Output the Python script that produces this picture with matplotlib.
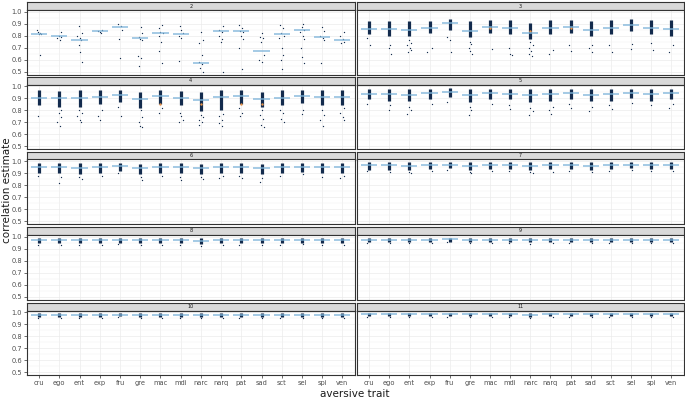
import matplotlib
matplotlib.use("Agg")
import matplotlib.pyplot as plt
import numpy as np

traits = ["cru", "ego", "ent", "exp", "fru", "gre", "mac", "mdi", "narc",
          "narq", "pat", "sad", "sct", "sel", "spi", "ven"]
facets = [2, 3, 4, 5, 6, 7, 8, 9, 10, 11]

# ---- mean lines per facet ----
mean_k2 = [0.815, 0.80, 0.76, 0.835, 0.875, 0.78, 0.825, 0.81, 0.575, 0.84, 0.835, 0.675, 0.81, 0.845, 0.79, 0.765]
mean_k3 = [0.855, 0.855, 0.85, 0.86, 0.905, 0.84, 0.875, 0.865, 0.82, 0.865, 0.87, 0.85, 0.86, 0.885, 0.86, 0.855]
mean_k4 = [0.90, 0.905, 0.90, 0.91, 0.925, 0.89, 0.915, 0.905, 0.885, 0.91, 0.915, 0.89, 0.905, 0.915, 0.91, 0.91]
mean_k5 = [0.935, 0.935, 0.93, 0.94, 0.95, 0.93, 0.94, 0.935, 0.925, 0.935, 0.94, 0.93, 0.935, 0.945, 0.935, 0.94]
mean_k6 = [0.95, 0.95, 0.945, 0.95, 0.96, 0.945, 0.95, 0.95, 0.94, 0.95, 0.95, 0.945, 0.95, 0.95, 0.95, 0.95]
mean_k7 = [0.965, 0.965, 0.96, 0.965, 0.97, 0.96, 0.965, 0.965, 0.96, 0.965, 0.965, 0.96, 0.965, 0.965, 0.965, 0.965]
mean_k8 = [0.97, 0.97, 0.97, 0.97, 0.975, 0.97, 0.97, 0.97, 0.968, 0.97, 0.97, 0.97, 0.97, 0.972, 0.97, 0.97]
mean_k9 = [0.975, 0.975, 0.975, 0.975, 0.978, 0.975, 0.975, 0.975, 0.973, 0.975, 0.975, 0.975, 0.975, 0.976, 0.975, 0.975]
mean_k10 = [0.978, 0.978, 0.978, 0.978, 0.98, 0.978, 0.978, 0.978, 0.977, 0.978, 0.978, 0.978, 0.978, 0.979, 0.978, 0.978]
mean_k11 = [0.982, 0.982, 0.982, 0.982, 0.983, 0.982, 0.982, 0.982, 0.981, 0.982, 0.982, 0.982, 0.982, 0.983, 0.982, 0.982]

# ---- dense cluster range (low, high) per facet ----
lo_k3 = [0.81, 0.80, 0.80, 0.82, 0.85, 0.79, 0.82, 0.81, 0.77, 0.81, 0.82, 0.80, 0.81, 0.84, 0.81, 0.80]
hi_k3 = [0.92, 0.92, 0.92, 0.92, 0.94, 0.92, 0.93, 0.93, 0.91, 0.93, 0.93, 0.92, 0.93, 0.94, 0.93, 0.93]
lo_k4 = [0.84, 0.83, 0.83, 0.85, 0.87, 0.82, 0.85, 0.84, 0.79, 0.80, 0.85, 0.83, 0.84, 0.86, 0.84, 0.84]
hi_k4 = [0.965, 0.96, 0.965, 0.965, 0.97, 0.95, 0.965, 0.96, 0.95, 0.965, 0.965, 0.95, 0.965, 0.965, 0.965, 0.965]
lo_k5 = [0.89, 0.88, 0.88, 0.89, 0.91, 0.87, 0.89, 0.89, 0.87, 0.88, 0.89, 0.88, 0.88, 0.90, 0.88, 0.89]
hi_k5 = [0.98, 0.98, 0.98, 0.98, 0.985, 0.975, 0.98, 0.98, 0.975, 0.98, 0.98, 0.975, 0.98, 0.98, 0.98, 0.98]
lo_k6 = [0.90, 0.90, 0.89, 0.90, 0.92, 0.89, 0.90, 0.90, 0.89, 0.90, 0.90, 0.89, 0.90, 0.91, 0.90, 0.90]
hi_k6 = [0.985, 0.985, 0.985, 0.985, 0.985, 0.98, 0.985, 0.985, 0.98, 0.985, 0.985, 0.98, 0.985, 0.985, 0.985, 0.985]
lo_k7 = [0.93, 0.93, 0.93, 0.935, 0.94, 0.93, 0.935, 0.935, 0.93, 0.935, 0.935, 0.93, 0.935, 0.94, 0.935, 0.935]
hi_k7 = [0.99] * 16
lo_k8 = [0.945, 0.945, 0.945, 0.945, 0.95, 0.945, 0.945, 0.945, 0.94, 0.945, 0.945, 0.945, 0.945, 0.95, 0.945, 0.945]
hi_k8 = [0.99] * 16
lo_k9 = [0.955, 0.955, 0.955, 0.955, 0.96, 0.955, 0.955, 0.955, 0.952, 0.955, 0.955, 0.955, 0.955, 0.958, 0.955, 0.955]
hi_k9 = [0.99] * 16
lo_k10 = [0.96, 0.96, 0.96, 0.96, 0.965, 0.96, 0.96, 0.96, 0.958, 0.96, 0.96, 0.96, 0.96, 0.962, 0.96, 0.96]
hi_k10 = [0.99] * 16
lo_k11 = [0.965, 0.965, 0.965, 0.965, 0.968, 0.965, 0.965, 0.965, 0.963, 0.965, 0.965, 0.965, 0.965, 0.967, 0.965, 0.965]
hi_k11 = [0.992] * 16

# ---- individual (sparse) points per facet ----
pts_k2 = [
    [0.83, 0.82, 0.815, 0.81, 0.85, 0.64],
    [0.83, 0.80, 0.79, 0.78, 0.76],
    [0.88, 0.82, 0.80, 0.78, 0.76, 0.72, 0.66, 0.58],
    [0.85, 0.84, 0.83, 0.82],
    [0.90, 0.88, 0.85, 0.77, 0.61],
    [0.87, 0.82, 0.79, 0.77, 0.76, 0.63, 0.61, 0.55],
    [0.89, 0.86, 0.83, 0.82, 0.80, 0.75, 0.67, 0.57],
    [0.88, 0.85, 0.82, 0.80, 0.78, 0.59],
    [0.83, 0.76, 0.74, 0.64, 0.58, 0.56, 0.53, 0.50],
    [0.88, 0.85, 0.83, 0.80, 0.77, 0.75, 0.50],
    [0.89, 0.86, 0.84, 0.83, 0.80, 0.77, 0.70, 0.52],
    [0.82, 0.79, 0.78, 0.75, 0.64, 0.60, 0.58],
    [0.89, 0.86, 0.82, 0.80, 0.78, 0.70, 0.64, 0.60, 0.52],
    [0.90, 0.87, 0.85, 0.83, 0.80, 0.77, 0.70, 0.62, 0.57],
    [0.87, 0.84, 0.80, 0.78, 0.76, 0.57],
    [0.83, 0.80, 0.77, 0.75, 0.74],
]
pts_k3 = [[0.78, 0.72], [0.72, 0.70, 0.65], [0.76, 0.74, 0.72, 0.70, 0.68, 0.66], [0.70, 0.66],
          [0.79, 0.76, 0.66], [0.75, 0.73, 0.70, 0.67, 0.65], [0.69], [0.70, 0.65, 0.64],
          [0.75, 0.72, 0.70, 0.67, 0.65, 0.63], [0.68, 0.65], [0.72, 0.67], [0.72, 0.70, 0.66],
          [0.72, 0.66], [0.73, 0.69], [0.74, 0.68], [0.72, 0.66]]
pts_k4 = [[0.75], [0.80, 0.78, 0.74, 0.70, 0.67], [0.80, 0.78, 0.75, 0.72, 0.70], [0.80, 0.75, 0.72],
          [0.83, 0.75], [0.80, 0.74, 0.70, 0.67, 0.66], [0.82, 0.78], [0.78, 0.75, 0.72, 0.70],
          [0.76, 0.74, 0.72, 0.70, 0.68], [0.77, 0.75, 0.72, 0.69, 0.67], [0.82, 0.78, 0.75],
          [0.80, 0.76, 0.73, 0.68, 0.66], [0.80, 0.78, 0.73, 0.70], [0.80, 0.77],
          [0.80, 0.76, 0.72, 0.67], [0.82, 0.78, 0.74, 0.72]]
pts_k5 = [[0.85], [0.84, 0.80], [0.83, 0.80, 0.77], [0.85], [0.87], [0.83, 0.80, 0.76],
          [0.85], [0.84, 0.81], [0.82, 0.79, 0.76], [0.83, 0.80, 0.77], [0.85, 0.82],
          [0.83, 0.79], [0.84, 0.81], [0.86], [0.84], [0.85, 0.82]]
pts_k6 = [[0.88], [0.87, 0.82], [0.87, 0.85], [0.88], [0.90], [0.87, 0.84], [0.88],
          [0.87, 0.84], [0.87, 0.85], [0.88, 0.86], [0.88, 0.86], [0.86, 0.83], [0.88],
          [0.89], [0.87], [0.88, 0.86]]
pts_k7 = [[0.92], [0.91], [0.91, 0.90], [0.92], [0.93], [0.91, 0.90], [0.92], [0.92],
          [0.91, 0.90], [0.91], [0.92], [0.91], [0.92], [0.93], [0.92], [0.92]]
pts_k8 = [[0.935], [0.93], [0.93], [0.935], [0.94], [0.93], [0.935], [0.935],
          [0.925], [0.93], [0.935], [0.93], [0.935], [0.94], [0.935], [0.935]]
pts_k9 = [[0.948], [0.945], [0.945], [0.948], [0.952], [0.945], [0.948], [0.948],
          [0.94], [0.945], [0.948], [0.945], [0.948], [0.95], [0.948], [0.948]]
pts_k10 = [[0.955], [0.952], [0.952], [0.955], [0.958], [0.952], [0.955], [0.955],
           [0.95], [0.952], [0.955], [0.952], [0.955], [0.956], [0.955], [0.955]]
pts_k11 = [[0.96], [0.958], [0.958], [0.96], [0.962], [0.958], [0.96], [0.96],
           [0.956], [0.958], [0.96], [0.958], [0.96], [0.961], [0.96], [0.96]]

# orange highlighted points: (facet, trait, value)
hl_facet = [3, 3, 3, 4, 4, 4, 4]
hl_trait = ["mac", "narc", "pat", "mac", "narc", "pat", "sad"]
hl_value = [0.865, 0.84, 0.86, 0.855, 0.85, 0.855, 0.85]

means = [mean_k2, mean_k3, mean_k4, mean_k5, mean_k6, mean_k7, mean_k8, mean_k9, mean_k10, mean_k11]
los = [None, lo_k3, lo_k4, lo_k5, lo_k6, lo_k7, lo_k8, lo_k9, lo_k10, lo_k11]
his = [None, hi_k3, hi_k4, hi_k5, hi_k6, hi_k7, hi_k8, hi_k9, hi_k10, hi_k11]
pts = [pts_k2, pts_k3, pts_k4, pts_k5, pts_k6, pts_k7, pts_k8, pts_k9, pts_k10, pts_k11]

W, H = 685, 401
fig = plt.figure(figsize=(W / 100, H / 100), dpi=100)

col_x = [(27, 354.5), (357, 683.5)]
strip_h = 8
panel_h = 64.5
row_top = [2, 76.5, 151.5, 227, 302.5]

navy = "#132b4d"
lineblue = "#7fb5da"
jit = [-0.08, 0.06, -0.02, 0.10, -0.11, 0.03, 0.08, -0.05, 0.0, 0.11, -0.09, 0.04]
xs = np.arange(1, len(traits) + 1)

for i, k in enumerate(facets):
    r, c = divmod(i, 2)
    x0, x1 = col_x[c]
    top = row_top[r]
    # strip
    sax = fig.add_axes([x0 / W, 1 - (top + strip_h) / H, (x1 - x0) / W, strip_h / H])
    sax.set_facecolor("#d9d9d9")
    sax.set_xticks([]); sax.set_yticks([])
    for s in sax.spines.values():
        s.set_color("#333333"); s.set_linewidth(0.8)
    sax.text(0.5, 0.5, str(k), ha="center", va="center", fontsize=3.5, color="#1a1a1a",
             transform=sax.transAxes)
    # panel
    ax = fig.add_axes([x0 / W, 1 - (top + strip_h + panel_h) / H, (x1 - x0) / W, panel_h / H])
    ax.set_xlim(0.4, 16.6)
    ax.set_ylim(0.4755, 1.0145)
    ax.set_yticks([0.5, 0.6, 0.7, 0.8, 0.9, 1.0])
    ax.set_yticks([0.55, 0.65, 0.75, 0.85, 0.95], minor=True)
    ax.set_xticks(xs)
    ax.grid(True, which="major", color="#ebebeb", lw=0.5)
    ax.grid(True, which="minor", axis="y", color="#f2f2f2", lw=0.35)
    ax.set_axisbelow(True)
    for s in ax.spines.values():
        s.set_color("#333333"); s.set_linewidth(0.8)
    ax.tick_params(which="both", length=0, labelsize=4.8, labelcolor="#4d4d4d")
    ax.tick_params(which="major", length=2, width=0.5, color="#333333", pad=1.5)
    ax.tick_params(which="minor", length=0)
    if c == 0:
        ax.set_yticklabels(["0.5", "0.6", "0.7", "0.8", "0.9", "1.0"])
    else:
        ax.set_yticklabels([])
        ax.tick_params(axis="y", length=0)
    if r == 4:
        ax.set_xticklabels(traits)
    else:
        ax.set_xticklabels([])
        ax.tick_params(axis="x", length=0)

    # dense clusters
    if los[i] is not None:
        ax.vlines(xs, los[i], his[i], color=navy, lw=2.3, zorder=2)
    # sparse points
    px, py = [], []
    for j, vals in enumerate(pts[i]):
        for m, v in enumerate(vals):
            px.append(xs[j] + jit[(m + j) % len(jit)])
            py.append(v)
    ax.scatter(px, py, s=0.9, color=navy, linewidths=0, zorder=3)
    # highlighted points
    hx = [traits.index(t) + 1 for f, t in zip(hl_facet, hl_trait) if f == k]
    hy = [v for f, v in zip(hl_facet, hl_value) if f == k]
    if hx:
        ax.scatter(hx, hy, s=3, color="#e8944a", linewidths=0, zorder=4)
    # mean lines
    ax.hlines(means[i], xs - 0.4, xs + 0.4, color=lineblue, lw=1.1, alpha=0.9, zorder=5)

fig.text(7 / W, 1 - 190 / H, "correlation estimate", rotation=90, ha="center", va="center",
         fontsize=7.5, color="#1a1a1a")
fig.text(355 / W, 1 - 394 / H, "aversive trait", ha="center", va="center", fontsize=7.5,
         color="#1a1a1a")

fig.savefig("out.png", dpi=100)
